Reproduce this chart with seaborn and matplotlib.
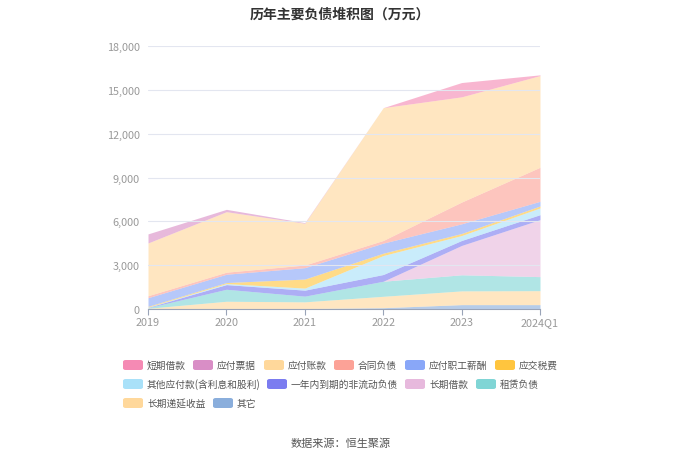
import numpy as np
import pandas as pd
import seaborn as sns
import matplotlib.pyplot as plt
from matplotlib.patches import FancyBboxPatch

# 数据 (万元)
years = ["2019", "2020", "2021", "2022", "2023", "2024Q1"]
duanqi_jiekuan = [0, 0, 0, 0, 980, 50]
yingfu_piaoju = [620, 160, 40, 0, 0, 0]
yingfu_zhangkuan = [3610, 4140, 2860, 9090, 7200, 6275]
hetong_fuzhai = [137, 140, 180, 180, 1490, 2330]
yingfu_xinchou = [590, 570, 780, 690, 660, 320]
yingjiao_shuifei = [50, 70, 620, 160, 140, 135]
qita_yingfu = [23, 70, 140, 1300, 340, 460]
yinian_daoqi = [20, 320, 410, 460, 340, 340]
changqi_jiekuan = [0, 0, 0, 0, 2010, 3900]
zulin_fuzhai = [40, 820, 390, 1030, 1100, 960]
diyan_shouyi = [40, 500, 460, 780, 940, 955]
qita = [10, 30, 30, 90, 300, 300]

names = ["短期借款", "应付票据", "应付账款", "合同负债", "应付职工薪酬", "应交税费",
         "其他应付款(含利息和股利)", "一年内到期的非流动负债", "长期借款", "租赁负债",
         "长期递延收益", "其它"]
colors = ["#f58ab4", "#d98ec6", "#ffd89b", "#fca297", "#89a7f8", "#ffc53e",
          "#a9e1f9", "#7b7cf0", "#e7b9dd", "#80d5d5", "#ffd89b", "#8aaedc"]

df = pd.DataFrame(
    [duanqi_jiekuan, yingfu_piaoju, yingfu_zhangkuan, hetong_fuzhai, yingfu_xinchou,
     yingjiao_shuifei, qita_yingfu, yinian_daoqi, changqi_jiekuan, zulin_fuzhai,
     diyan_shouyi, qita],
    index=names, columns=years)

sns.set_theme(style="white")
plt.rcParams['font.family'] = ['Noto Sans CJK SC', 'DejaVu Sans']

fig = plt.figure(figsize=(6.8, 4.6), dpi=100)
ax = fig.add_axes([148 / 680, 1 - 310 / 460, (540 - 148) / 680, (310 - 47) / 460])

x = np.arange(len(years))
# 从底部开始堆积: 其它 在最下面
order = names[::-1]
ax.stackplot(x, [df.loc[n].values for n in order],
             colors=[colors[names.index(n)] for n in order],
             alpha=0.62, linewidth=0)

ax.set_xlim(0, len(years) - 1)
ax.set_ylim(0, 18000)
ax.set_yticks(range(0, 18001, 3000))
ax.set_yticklabels([f"{v:,}" for v in range(0, 18001, 3000)])
ax.set_xticks(x)
ax.set_xticklabels(years)
ax.yaxis.grid(True, color="#e3e6f0", linewidth=0.8)
ax.set_axisbelow(False)
for s in ["left", "right", "top"]:
    ax.spines[s].set_visible(False)
ax.spines["bottom"].set_color("#9aa4b8")
ax.spines["bottom"].set_linewidth(0.8)
ax.tick_params(axis="y", length=0, labelsize=7.8, labelcolor="#999999", pad=6)
ax.tick_params(axis="x", length=4, width=0.8, color="#9aa4b8", labelsize=7.8,
               labelcolor="#999999", pad=2, direction="out", bottom=True)

fig.text(0.5, 1 - 15 / 460, "历年主要负债堆积图（万元）", ha="center", va="center",
         fontsize=10, fontweight="bold", color="#333333")
fig.text(341 / 680, 1 - 444 / 460, "数据来源：恒生聚源", ha="center", va="center",
         fontsize=8, color="#555555")

# 图例 (手动排版, 像素位置)
W, H = 680, 460
legend_pos = [(123, 366), (193, 366), (264, 366), (334, 366), (405, 366), (495, 366),
              (123, 385), (267, 385), (405, 385), (476, 385),
              (123, 404), (213, 404)]
for n, c, (px, py) in zip(names, colors, legend_pos):
    patch = FancyBboxPatch((px / W, 1 - (py + 5) / H), 20 / W, 10 / H,
                           boxstyle="round,pad=0,rounding_size=0.004",
                           transform=fig.transFigure, facecolor=c, edgecolor="none")
    fig.patches.append(patch)
    fig.text((px + 24) / W, 1 - py / H, n, fontsize=7.0, color="#555555",
             va="center", ha="left")

fig.savefig("out.png", dpi=100)
